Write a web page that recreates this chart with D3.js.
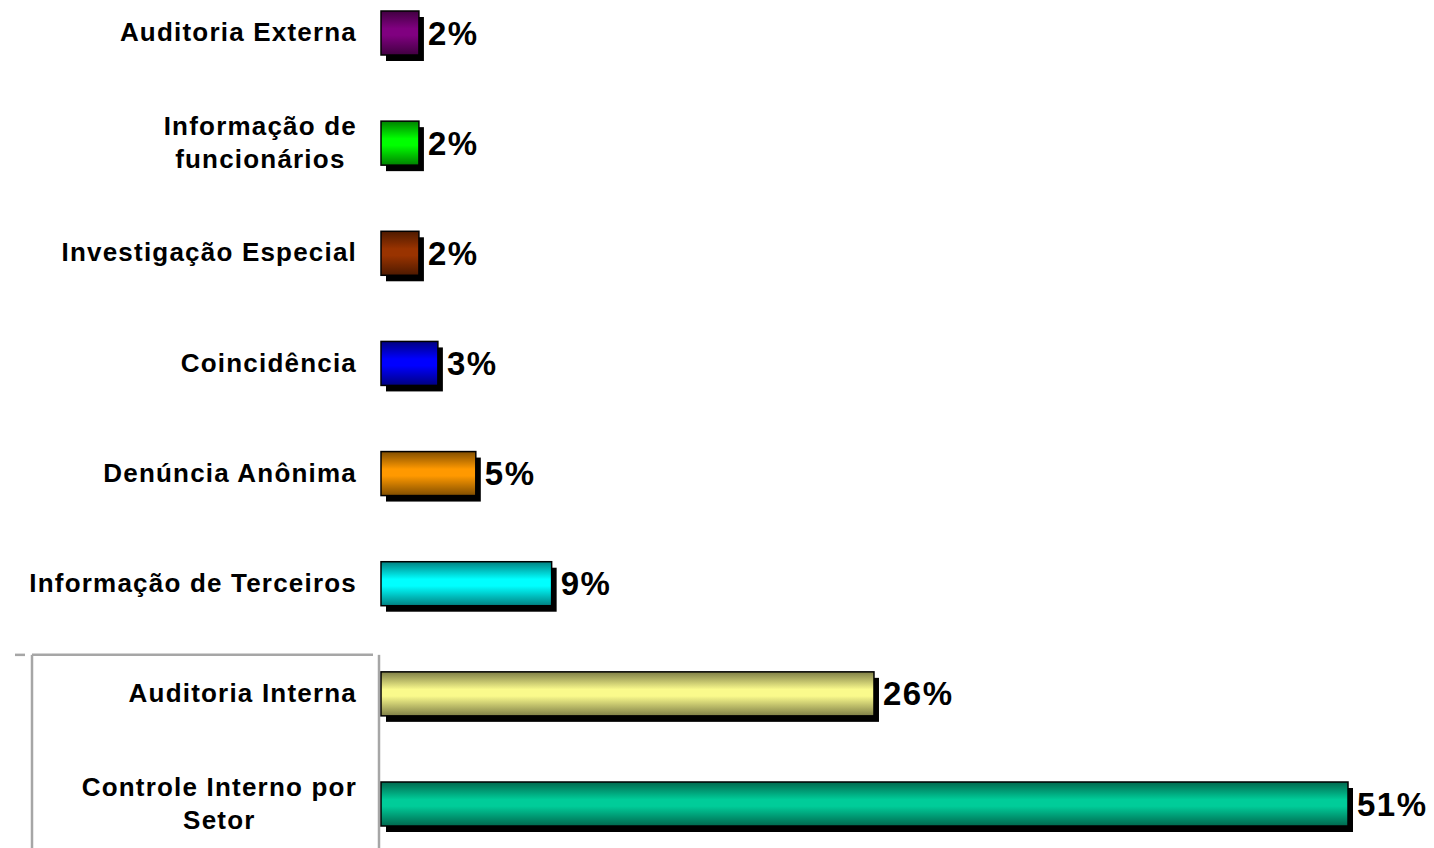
<!DOCTYPE html>
<html>
<head>
<meta charset="utf-8">
<script src="https://cdn.jsdelivr.net/npm/d3@7"></script>
<style>
  html, body { margin: 0; padding: 0; background: #fff; }
  svg { display: block; }
  text { font-family: "Liberation Sans", Arial, sans-serif; font-weight: bold; fill: #000; }
</style>
</head>
<body>
<svg id="chart" width="1434" height="848"></svg>
<script>
const categories = [
  'Auditoria Externa',
  'Informação de\nfuncionários',
  'Investigação Especial',
  'Coincidência',
  'Denúncia Anônima',
  'Informação de Terceiros',
  'Auditoria Interna',
  'Controle Interno por\nSetor'
];
const values = [2, 2, 2, 3, 5, 9, 26, 51];
const barColors = ['#800080', '#00ff00', '#993300', '#0000ff', '#ff9900', '#00ffff', '#fafa8c', '#00cc99'];

const svg = d3.select('#chart');
const barH = 44;
const shadow = { dx: 5, dy: 6 };

const x = d3.scaleLinear().domain([0, 51]).range([381, 1348]);
const y = d3.scalePoint().domain(categories).range([33, 804]);

// vertical gradient per bar: dark edges, bright middle
const defs = svg.append('defs');
barColors.forEach((c, i) => {
  const g = defs.append('linearGradient')
    .attr('id', 'grad' + i)
    .attr('x1', 0).attr('y1', 0).attr('x2', 0).attr('y2', 1);
  const dark = d3.color(c).darker(1.9);
  const stops = [[0, dark], [0.4, d3.color(c)], [0.55, d3.color(c)], [1, dark]];
  stops.forEach(s => g.append('stop').attr('offset', s[0]).attr('stop-color', s[1]));
});

// frame around the bottom group
const frame = svg.append('g')
  .attr('fill', 'none')
  .attr('stroke', '#a6a6a6')
  .attr('stroke-width', 2.5);
const frameTop = y(categories[6]) - 39;
frame.append('line').attr('x1', 15).attr('x2', 25).attr('y1', frameTop).attr('y2', frameTop);
frame.append('line').attr('x1', 32).attr('x2', 373).attr('y1', frameTop).attr('y2', frameTop);
frame.append('line').attr('x1', 32).attr('x2', 32).attr('y1', frameTop).attr('y2', 848);
frame.append('line').attr('x1', x(0) - 2).attr('x2', x(0) - 2).attr('y1', frameTop).attr('y2', 848);

const rows = svg.selectAll('g.row')
  .data(categories.map((c, i) => ({ cat: c, value: values[i], i })))
  .enter()
  .append('g')
  .attr('class', 'row');

// shadow
rows.append('rect')
  .attr('x', d => x(0) + shadow.dx)
  .attr('y', d => y(d.cat) - barH / 2 + shadow.dy)
  .attr('width', d => x(d.value) - x(0))
  .attr('height', barH)
  .attr('fill', '#000');

// bar
rows.append('rect')
  .attr('x', x(0))
  .attr('y', d => y(d.cat) - barH / 2)
  .attr('width', d => x(d.value) - x(0))
  .attr('height', barH)
  .attr('fill', d => `url(#grad${d.i})`)
  .attr('stroke', '#000')
  .attr('stroke-width', 1.5);

// value labels
rows.append('text')
  .attr('x', d => x(d.value) + shadow.dx + 4)
  .attr('y', d => y(d.cat))
  .attr('dy', '0.35em')
  .style('font-size', '33px')
  .style('letter-spacing', '1.5px')
  .text(d => d.value + '%');

// category labels
const lineH = 33;
rows.each(function (d) {
  const lines = d.cat.split('\n');
  const g = d3.select(this);
  const t = g.append('text')
    .style('font-size', '26px')
    .style('letter-spacing', '1.2px')
    .attr('text-anchor', lines.length > 1 ? 'middle' : 'end');
  const top = y(d.cat) - (lines.length - 1) * lineH / 2 - 1;
  lines.forEach((ln, k) => {
    t.append('tspan')
      .attr('x', 357)
      .attr('y', top + k * lineH)
      .attr('dy', '0.35em')
      .text(ln);
  });
  if (lines.length > 1) {
    // centre the wrapped block, keep its right edge at the axis
    const w = t.node().getBBox().width;
    t.selectAll('tspan').attr('x', 357 - w / 2);
  }
});
</script>
</body>
</html>
